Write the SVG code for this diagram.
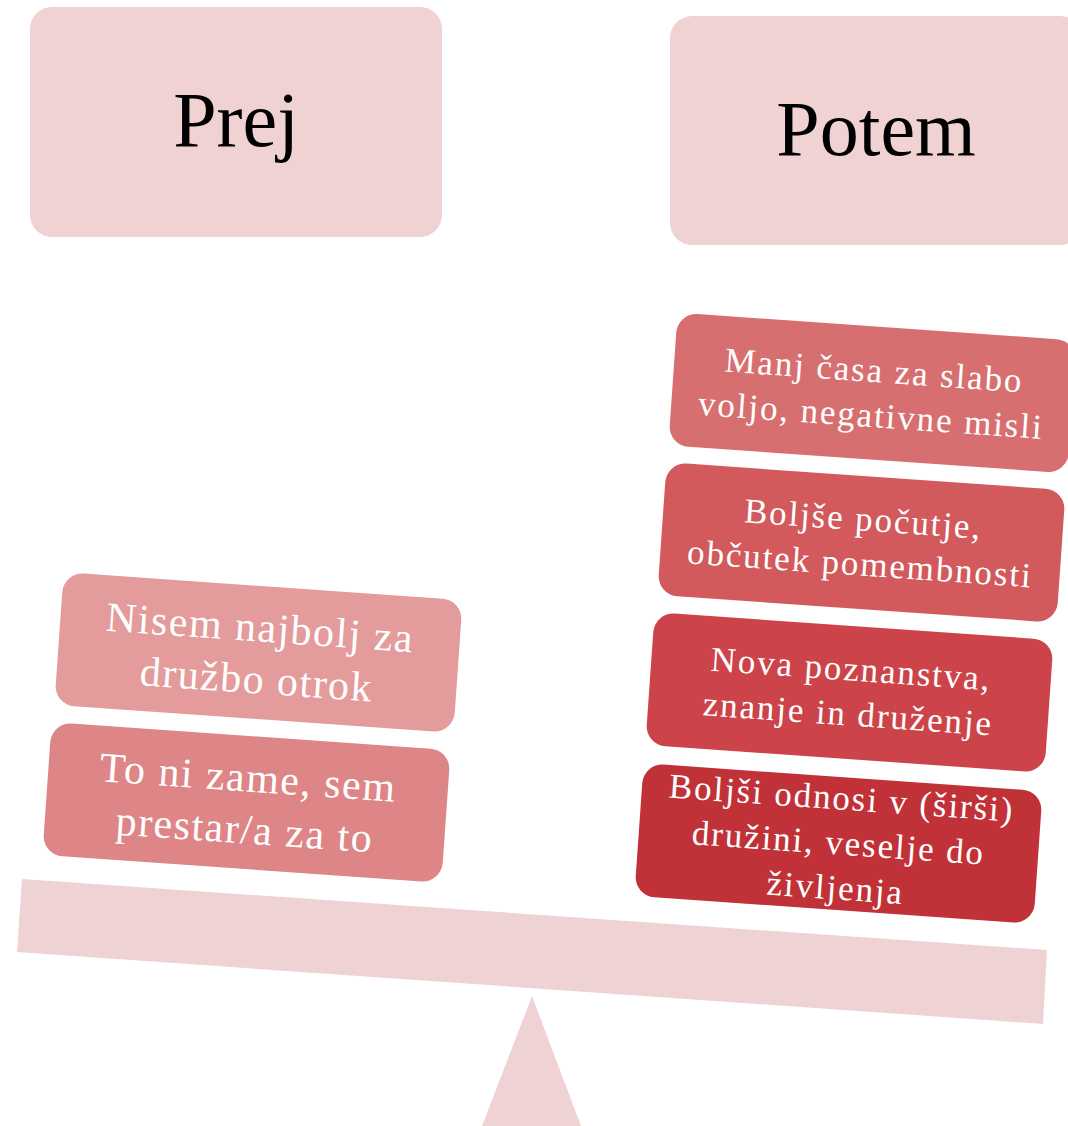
<svg xmlns="http://www.w3.org/2000/svg" width="1068" height="1126" viewBox="0 0 1068 1126">
<style>
.hdr{fill:#F0D2D3}
.ht{font-family:"Liberation Serif",serif;font-size:78px;fill:#000;text-anchor:middle}
.box{rx:20;ry:20}
.bt{font-family:"Liberation Serif",serif;fill:#fff;text-anchor:middle}
.rt{font-size:35px;letter-spacing:1.9px}
.lt{font-size:42px;letter-spacing:1.5px}
.base{fill:#EFD3D4}
</style>
<rect width="1068" height="1126" fill="#fff"/>
<g id="fulcrum"><polygon class="base" points="532,996 581,1126 482,1126"/></g>
<g id="beam"><polygon class="base" points="22,879 1047,950 1043,1024 17,952"/></g>
<g id="prej">
<rect class="hdr" x="30" y="7" width="412" height="230" rx="22"/>
<text class="ht" x="236" y="146">Prej</text>
</g>
<g id="potem">
<rect class="hdr" x="670" y="16" width="412" height="229" rx="22"/>
<text class="ht" x="876" y="155">Potem</text>
</g>
<g id="left1" transform="translate(258.5,652.5) rotate(4)">
<rect class="box" x="-200" y="-66.5" width="400" height="133" fill="#E39B9C"/>
<text class="bt lt" y="-11">Nisem najbolj za</text>
<text class="bt lt" y="41">družbo otrok</text>
</g>
<g id="left2" transform="translate(246.5,802.5) rotate(4)">
<rect class="box" x="-200" y="-66.5" width="400" height="133" fill="#DE8587"/>
<text class="bt lt" y="-11">To ni zame, sem</text>
<text class="bt lt" y="41">prestar/a za to</text>
</g>
<g id="right1" transform="translate(872.5,393) rotate(4)">
<rect class="box" x="-200" y="-66.5" width="400" height="133" fill="#D76F71"/>
<text class="bt rt" y="-11">Manj časa za slabo</text>
<text class="bt rt" y="34">voljo, negativne misli</text>
</g>
<g id="right2" transform="translate(861.5,542.5) rotate(4)">
<rect class="box" x="-200" y="-66.5" width="400" height="133" fill="#D2595C"/>
<text class="bt rt" y="-12">Boljše počutje,</text>
<text class="bt rt" y="33">občutek pomembnosti</text>
</g>
<g id="right3" transform="translate(849.5,692.5) rotate(4)">
<rect class="box" x="-200" y="-66.5" width="400" height="133" fill="#CC4449"/>
<text class="bt rt" y="-12">Nova poznanstva,</text>
<text class="bt rt" y="33">znanje in druženje</text>
</g>
<g id="right4" transform="translate(838.5,843.5) rotate(4)">
<rect class="box" x="-200" y="-66.5" width="400" height="133" fill="#C13238"/>
<text class="bt rt" y="-34">Boljši odnosi v (širši)</text>
<text class="bt rt" y="11">družini, veselje do</text>
<text class="bt rt" y="56">življenja</text>
</g>
<g id="connectors"/>
</svg>
